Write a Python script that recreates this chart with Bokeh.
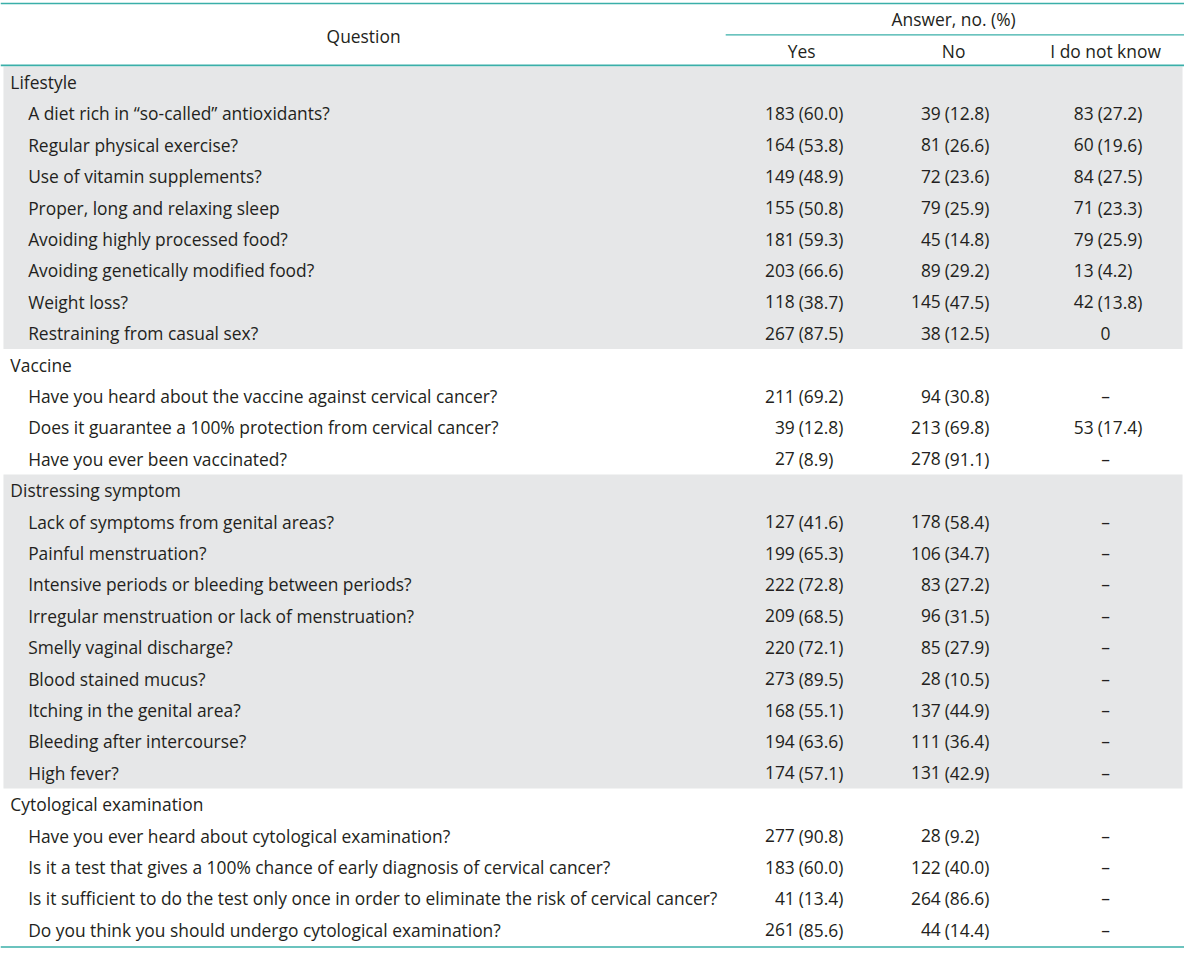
from bokeh.plotting import figure
from bokeh.models import ColumnDataSource, Range1d
from bokeh.embed import file_html
from bokeh.resources import INLINE
from bokeh.core.properties import value

# ---------------- data ----------------
categories = ["Lifestyle", "Vaccine", "Distressing symptom", "Cytological examination"]
group_sizes = [8, 3, 9, 4]
questions = [
    "A diet rich in \u201cso-called\u201d antioxidants?",
    "Regular physical exercise?",
    "Use of vitamin supplements?",
    "Proper, long and relaxing sleep",
    "Avoiding highly processed food?",
    "Avoiding genetically modified food?",
    "Weight loss?",
    "Restraining from casual sex?",
    "Have you heard about the vaccine against cervical cancer?",
    "Does it guarantee a 100% protection from cervical cancer?",
    "Have you ever been vaccinated?",
    "Lack of symptoms from genital areas?",
    "Painful menstruation?",
    "Intensive periods or bleeding between periods?",
    "Irregular menstruation or lack of menstruation?",
    "Smelly vaginal discharge?",
    "Blood stained mucus?",
    "Itching in the genital area?",
    "Bleeding after intercourse?",
    "High fever?",
    "Have you ever heard about cytological examination?",
    "Is it a test that gives a 100% chance of early diagnosis of cervical cancer?",
    "Is it sufficient to do the test only once in order to eliminate the risk of cervical cancer?",
    "Do you think you should undergo cytological examination?",
]
yes_n = [183, 164, 149, 155, 181, 203, 118, 267, 211, 39, 27, 127, 199, 222, 209, 220, 273, 168, 194, 174, 277, 183, 41, 261]
yes_pct = [60.0, 53.8, 48.9, 50.8, 59.3, 66.6, 38.7, 87.5, 69.2, 12.8, 8.9, 41.6, 65.3, 72.8, 68.5, 72.1, 89.5, 55.1, 63.6, 57.1, 90.8, 60.0, 13.4, 85.6]
no_n = [39, 81, 72, 79, 45, 89, 145, 38, 94, 213, 278, 178, 106, 83, 96, 85, 28, 137, 111, 131, 28, 122, 264, 44]
no_pct = [12.8, 26.6, 23.6, 25.9, 14.8, 29.2, 47.5, 12.5, 30.8, 69.8, 91.1, 58.4, 34.7, 27.2, 31.5, 27.9, 10.5, 44.9, 36.4, 42.9, 9.2, 40.0, 86.6, 14.4]
dk_n = [83, 60, 84, 71, 79, 13, 42, 0, None, 53, None, None, None, None, None, None, None, None, None, None, None, None, None, None]
dk_pct = [27.2, 19.6, 27.5, 23.3, 25.9, 4.2, 13.8, None, None, 17.4, None, None, None, None, None, None, None, None, None, None, None, None, None, None]
col_headers = ["Yes", "No", "I do not know"]
header_question = "Question"
header_answer = "Answer, no. (%)"

# ---------------- layout ----------------
W, H = 1184, 951
S = W / 1200.0
FONT = "Open Sans"
FS = "%.1fpx" % (17.6 * S)
TXT = "#231f20"
TEAL = "#3aafa9"
GRAY = "#e6e7e8"

top_body = 67.0
bottom_body = 961.0
n_rows = len(categories) + len(questions)
rh = (bottom_body - top_body) / n_rows

p = figure(width=W, height=H, x_range=Range1d(0, 1200), y_range=Range1d(967, 0),
           output_backend="svg", toolbar_location=None, min_border=0)
p.axis.visible = False
p.grid.visible = False
p.outline_line_color = None
p.background_fill_color = "white"
p.border_fill_color = "white"

# rows
cat_x, cat_y, cat_t = [], [], []
q_x, q_y, q_t = [], [], []
q_rowy = []
band_top, band_bot = [], []
r = 0
qi = 0
for gi, (c, n) in enumerate(zip(categories, group_sizes)):
    g_top = top_body + r * rh
    cat_x.append(10)
    cat_y.append(top_body + (r + 0.5) * rh)
    cat_t.append(c)
    r += 1
    for k in range(n):
        q_x.append(28)
        q_y.append(top_body + (r + 0.5) * rh)
        q_t.append(questions[qi])
        q_rowy.append(top_body + (r + 0.5) * rh)
        qi += 1
        r += 1
    g_bot = top_body + r * rh
    if gi % 2 == 0:
        band_top.append(g_top)
        band_bot.append(g_bot)

p.quad(left=[3] * len(band_top), right=[1198] * len(band_top), top=band_top, bottom=band_bot,
       fill_color=GRAY, line_color=None)

# rules
p.segment(x0=[0, 0, 0], x1=[1200, 1200, 1200], y0=[3, 66, 962.5], y1=[3, 66, 962.5],
          line_color=TEAL, line_width=1.6)
p.segment(x0=[735], x1=[1200], y0=[35], y1=[35], line_color=TEAL, line_width=1.3)

def txt(xs, ys, ts, align):
    src = ColumnDataSource(dict(x=xs, y=ys, t=ts))
    p.text(x="x", y="y", text="t", source=src, text_align=align, text_baseline="middle",
           text_font=value(FONT), text_font_size=value(FS), text_color=TXT)

# headers
txt([368], [36], [header_question], "center")
txt([966], [19], [header_answer], "center")
txt([812, 966, 1120], [51, 51, 51], col_headers, "center")

txt(cat_x, cat_y, cat_t, "left")
txt(q_x, q_y, q_t, "left")

# numeric columns, aligned on the space between count and percentage
splits = [809, 957, 1112]
dash_x = 1120
for split, ns, ps in zip(splits, [yes_n, no_n, dk_n], [yes_pct, no_pct, dk_pct]):
    nx, ny, nt = [], [], []
    px_, py_, pt = [], [], []
    cx, cy, ct = [], [], []
    for y, n, pc in zip(q_rowy, ns, ps):
        if n is None:
            cx.append(dash_x); cy.append(y); ct.append("\u2013")
        elif pc is None:
            cx.append(dash_x); cy.append(y); ct.append(str(n))
        else:
            nx.append(split - 4); ny.append(y); nt.append(str(n))
            px_.append(split); py_.append(y); pt.append("(%.1f)" % pc)
    txt(nx, ny, nt, "right")
    txt(px_, py_, pt, "left")
    if ct:
        txt(cx, cy, ct, "center")

open("out.html", "w").write(file_html(p, INLINE))
